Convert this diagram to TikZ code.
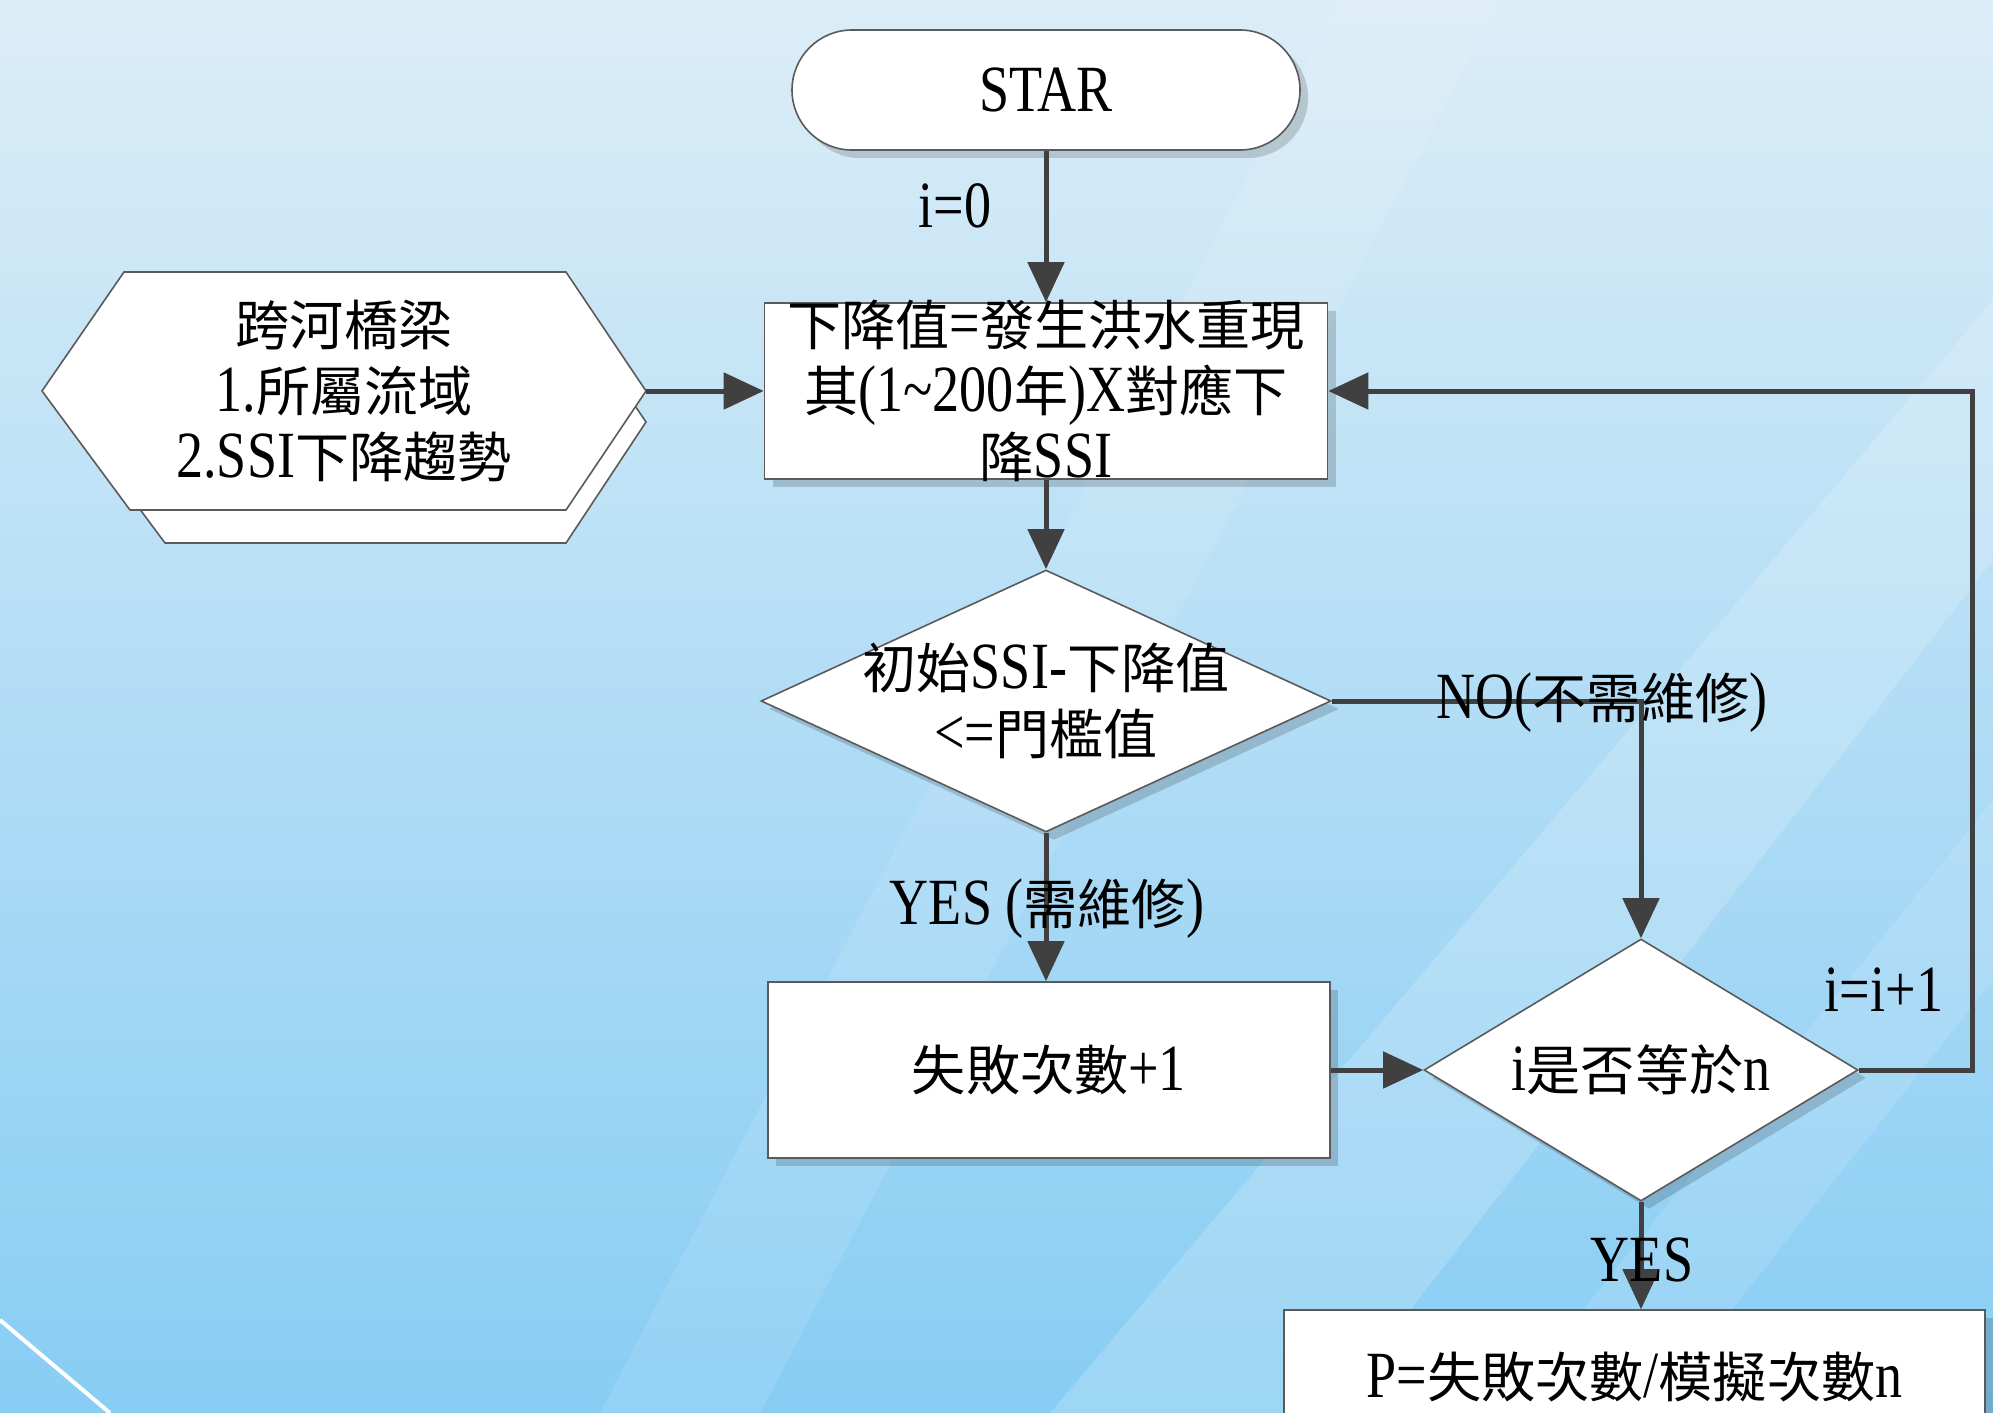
\documentclass[tikz,border=0pt]{standalone}
\usepackage{fontspec}
\setmainfont[FakeStretch=0.82]{Liberation Serif}
\newfontfamily\cjkfont[Scale=0.82]{Noto Sans CJK TC}
\newcommand\zh[1]{{\cjkfont #1}}
\usetikzlibrary{arrows.meta,shapes.geometric,shapes.misc,shadows,calc}
\definecolor{linecol}{HTML}{404040}
\definecolor{bordercol}{HTML}{5A5A5A}
\definecolor{bgtop}{HTML}{DCEDF7}
\definecolor{bgmid}{HTML}{B6DDF3}
\definecolor{bgbot}{HTML}{88CDF4}
\begin{document}
\begin{tikzpicture}[x=0.5pt,y=-0.5pt,
  txt/.style={font=\fontsize{33pt}{33pt}\selectfont, align=center, inner sep=0pt, text=black},
  shapebase/.style={draw=bordercol, line width=0.8pt, fill=white,
    font=\fontsize{33pt}{33pt}\selectfont, align=center,
    drop shadow={shadow xshift=4pt, shadow yshift=-4pt, fill=black, opacity=0.16}},
  procbox/.style={shapebase, rectangle, inner sep=0pt},
  decbox/.style={shapebase, diamond, inner sep=0pt},
  termbox/.style={shapebase, rounded rectangle, inner sep=0pt},
  hexbox/.style={draw=bordercol, line width=0.8pt, fill=white},
  arr/.style={draw=linecol, line width=2.5pt, -{Triangle[length=20pt,width=18pt]}},
]
\useasboundingbox (0,0) rectangle (1993,1413);
\clip (0,0) rectangle (1993,1413);
% background
\shade[top color=bgtop, middle color=bgmid, bottom color=bgbot] (0,0) rectangle (1993,1413);
\fill[white, opacity=0.18] (1050,1413) -- (1330,1413) -- (1993,560) -- (1993,300) -- cycle;
\fill[white, opacity=0.12] (1500,1413) -- (1650,1413) -- (1993,980) -- (1993,800) -- cycle;
\fill[white, opacity=0.10] (600,1413) -- (760,1413) -- (1500,0) -- (1340,0) -- cycle;
\draw[white, line width=2pt] (0,1320) -- (110,1413);

% nodes
\node[termbox, minimum width=254pt, minimum height=60pt] (start) at (1046,90) {STAR};

\node[procbox, minimum width=281.5pt, minimum height=88pt,
  label={[txt]center:{\zh{下降值}=\zh{發生洪水重現}\\ \zh{其}(1\textasciitilde 200\zh{年})X\zh{對應下}\\ \zh{降}SSI}}]
  (b1) at (1046,391) {};

% input (stacked hexagon)
\draw[hexbox] (75,422) -- (158,304) -- (566,304) -- (646,422) -- (566,543) -- (165,543) -- cycle;
\draw[hexbox] (42,391) -- (124,272) -- (566,272) -- (646,391) -- (566,510) -- (130,510) -- cycle;
\node[txt] (hex) at (344,391) {\zh{跨河橋梁}\\1.\zh{所屬流域}\\2.SSI\zh{下降趨勢}};
\coordinate (hexR) at (646,391);

\node[decbox, minimum width=285pt, minimum height=131pt,
  label={[txt]center:{\zh{初始}SSI-\zh{下降值}\\ <=\zh{門檻值}}}]
  (d1) at (1046,701) {};

\node[procbox, minimum width=281pt, minimum height=88pt] (b2) at (1049,1070) {\zh{失敗次數}+1};

\node[decbox, minimum width=217pt, minimum height=131pt,
  label={[txt]center:{i\zh{是否等於}n}}]
  (d2) at (1641,1070) {};

\node[procbox, minimum width=350.5pt, minimum height=67pt] (b3) at (1634.5,1377) {P=\zh{失敗次數}/\zh{模擬次數}n};

\coordinate (loopx) at (1972,0);

% connectors
\draw[arr] (start.south) -- (b1.north);
\draw[arr] (hexR) -- (b1.west);
\draw[arr] (b1.south) -- (d1.north);
\draw[arr] (d1.east) -| (d2.north);
\draw[arr] (d1.south) -- (d1.south |- b2.north);
\draw[arr] (b2.east) -- (d2.west);
\draw[arr] (d2.east) -- (d2.east -| loopx) |- (b1.east);
\draw[arr] (d2.south) -- (d2.south |- b3.north);

% connector labels
\node[txt] (l0) at (955,206) {i=0};
\node[txt] (lyes1) at (1047,909) {YES (\zh{需維修})};
\node[txt] (lno) at (1602,703) {NO(\zh{不需維修})};
\node[txt] (linc) at (1884,990) {i=i+1};
\node[txt] (lyes2) at (1642,1260) {YES};
\end{tikzpicture}
\end{document}
